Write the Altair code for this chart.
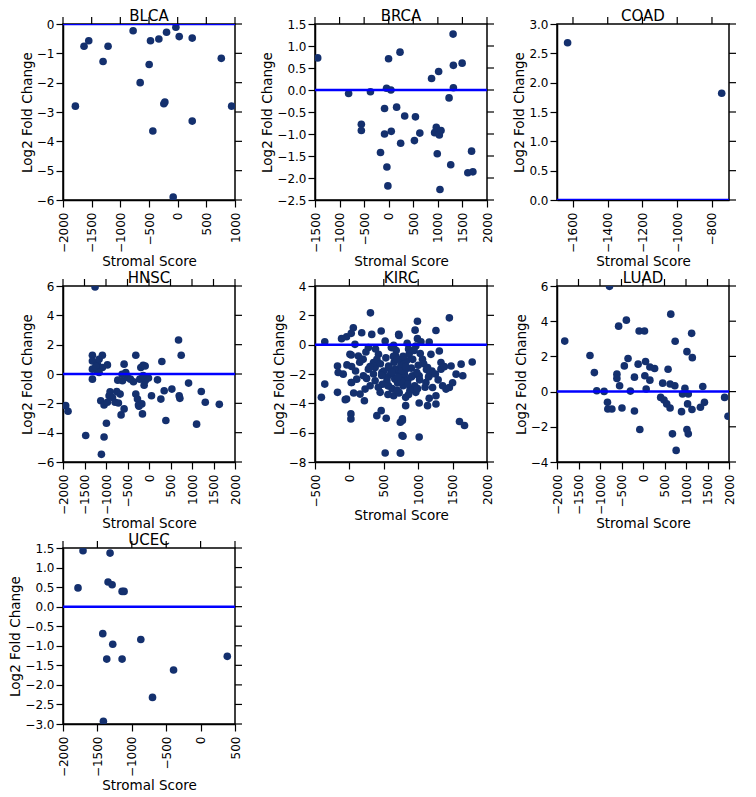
import altair as alt
import pandas as pd

# ---------------- data ----------------
blca_x = [-1784, -1633, -1551, -1301, -1214, -777, -654, -497, -474, -433, -328, -241, -223, -194, -78, -31, 27, 254, 254, 761, 942]
blca_y = [-2.80, -0.76, -0.57, -1.28, -0.76, -0.23, -2.00, -1.38, -0.57, -3.65, -0.51, -2.72, -2.66, -0.28, -5.90, -0.11, -0.43, -0.48, -3.31, -1.17, -2.80]

brca_x = [-1445, -816, -557, -557, -372, -167, -85, -85, -44, -37, -17, -3, 45, 52, 161, 230, 243, 325, 523, 544, 633, 872, 934, 968, 988, 1016, 1030, 1043, 1064, 1228, 1262, 1310, 1316, 1316, 1494, 1610, 1686, 1713]
brca_y = [0.73, -0.08, -0.78, -0.92, -0.04, -1.42, -0.42, -1.00, 0.04, -1.75, -2.18, 0.71, 0.00, -0.94, -0.39, 0.86, -1.21, -0.59, -1.15, -0.61, -0.98, 0.26, -0.97, -0.85, -1.45, 0.42, -1.02, -2.26, -0.92, -0.18, -1.70, 1.27, 0.56, 0.05, 0.61, -1.88, -1.39, -1.86]

coad_x = [-1631, -744]
coad_y = [2.68, 1.82]

hnsc_x = [-1254, -1938, -1883, -1472, -1316, -1316, -1316, -1316, -1200, -1161, -1084, -1084, -1200, -967, -1122, -1045, -1045, -1107, -990, -967, -928, -905, -726, -788, -711, -672, -649, -579, -579, -540, -617, -501, -361, -307, -307, -268, -245, -167, -152, -190, -136, -89, -113, -89, -214, -12, 58, 198, 299, 276, 353, 392, 532, 687, 749, 702, 718, 920, 1107, 1216, 1309, 1635, -1238, -1161, -626, -432, -136, -849, -750, -233]
hnsc_y = [5.93, -2.16, -2.54, -4.19, 1.28, 0.89, 0.33, -0.35, 0.67, 1.00, 1.28, 0.44, 0.21, 0.62, -1.82, -2.11, -4.30, -5.48, -3.36, -1.93, -1.48, -1.21, -0.42, -1.93, -1.98, -1.37, -2.79, 0.67, -2.38, 0.10, -0.46, -0.24, -0.53, 1.28, -1.37, -1.71, -2.11, -2.04, -2.72, 0.44, 0.60, 0.55, -0.76, -0.46, -0.35, -0.28, -1.48, -0.40, 0.85, -1.71, -1.14, -3.17, -1.03, 2.32, 1.28, -1.48, -1.66, -0.62, -3.42, -1.19, -1.93, -2.07, 0.50, 0.10, -0.02, -0.35, -0.10, -1.60, -1.20, -2.20]

kirc_x = [306, -358, 57, 179, -41, -114, 462, 325, 716, -173, -90, -163, 32, -358, -407, -173, -41, 8, 130, 179, 106, 203, 155, 218, 301, 374, 447, 22, 22, 399, 462, 535, 520, 740, 740, 765, 81, 276, 374, 569, 472, 667, 569, 276, 520, 643, 350, 32, 228, 643, 545, 716, 423,
          1453, 989, 1258, 955, 721, 989, 1160, 1785, 1624, 1478, 1331, 1648, 1453, 1404, 1258, 1258, 1160, 1136, 1014, 818, 1600, 1673, 770, 779, 1014, 745, 770, 965, 1209, 1136, 1307, 1185, 1062, 965, 867, 770, 818, 916, 1014, 1112, 1355, 1160, 770, 892, 721, 818, 1331, 1551, 672, 672,
          400, 450, 500, 550, 600, 650, 700, 750, 800, 850, 900, 950, 620, 680, 720, 780, 830, 880, 480, 530, 580, 660, 760, 860, 920, 980, 1020, 1080, 1100, 1150, 300, 350, 250, 200, 420, 560, 640, 700, 820, 760, 900, 1000,
          -60, 62, 27, -36, 27, 27, 150, 90, 240, 380, 610, 840, 940, 1040, 1200, 1290, 1380, 1500, 1250, 1120, 560, 470, 690, 860, 990, 1030, 620, 710, 780, 850]
kirc_y = [2.17, 0.20, 1.15, 0.81, 0.54, 0.41, 0.93, 0.70, 0.70, -1.45, -2.01, -1.90, -1.49, -2.69, -3.59, -3.25, -3.71, -0.66, -0.77, -0.99, -2.35, -2.12, -3.37, -3.82, -2.80, -2.46, -3.25, -4.72, -5.06, -4.84, -4.50, -5.02, -7.39, -7.39, -5.29, -6.19, 0.02, -1.67, -1.56, -1.45, -1.90, -2.35, -2.80, -0.20, 0.25, -0.05, -1.22, -2.58, -3.03, -3.48, -2.46, -1.90, -0.66,
          1.83, 1.60, 0.97, 0.99, 0.63, 0.41, 0.18, -1.18, -1.33, -1.45, -1.67, -2.12, -2.92, -3.03, -3.48, -4.05, -3.66, -4.16, -3.98, -4.16, -5.24, -5.51, -5.06, -6.24, -6.30, -7.39, -5.17, -3.25, -2.92, -1.56, -0.43, -0.66, -0.99, -0.09, -0.66, -0.99, -1.67, -2.12, -2.12, -2.58, -2.80, -2.12, -2.35, -3.03, -3.25, -3.59, -1.22, -2.01, -1.67, -0.77,
          -1.0, -1.3, -1.8, -2.2, -2.0, -1.2, -2.6, -1.4, -2.0, -2.4, -1.6, -2.8, -3.0, -0.4, -3.3, -2.8, -1.1, -3.1, -2.7, -0.9, -1.6, -2.3, -1.8, -0.3, -1.0, -1.9, -2.4, -1.3, -2.9, -2.2, -1.5, -2.0, -2.3, -1.0, -2.9, -3.4, -0.8, -1.0, -1.5, -2.5, -2.2, -1.4,
          -3.75, -3.30, -2.58, -1.38, -0.70, 0.77, -1.20, -1.80, -0.50, -0.30, -0.20, 0.10, -0.40, 0.20, -1.80, -2.40, -1.50, -2.60, -2.00, -1.70, -2.80, -2.10, -3.10, -3.40, -3.00, -0.60, -1.90, -2.20, -0.80, -2.70]

luad_x = [-779, -1820, -1233, -1131, -1076, -904, -826, -818, -724, -567, -387, -607, -607, -544, -489, -434, -348, -293, -199, -199, -113, -90, 35, -74, 59, 43, 74, 160, 160, 270, 411, 458, 489, 552, 583, 630, 646, 630, 740, 685, 748, 771, 896, 975, 920, 1037, 1053, 1022, 1147, 1131, 1022, 1053, 1139, 1335, 1390, 1429, 1898, 1977]
luad_y = [5.98, 2.87, 2.05, 1.08, 0.05, 0.01, -0.61, -0.99, -0.99, 3.72, 4.06, 0.99, 0.75, 0.33, -0.93, 1.46, 1.88, 0.03, 0.82, -1.10, 1.56, 3.44, 3.44, -2.15, 1.71, 0.90, 0.15, 1.40, 0.65, 1.31, -0.33, 0.48, -0.48, -0.70, 1.27, -0.93, 4.40, 0.43, 0.33, -2.40, 2.86, -3.34, -1.14, 0.18, -0.14, -0.70, -0.14, 2.27, 1.93, 3.31, -2.15, -2.40, -1.02, -0.89, 0.29, -0.61, -0.33, -1.40]

ucec_x = [-1709, -1316, -1782, -1345, -1286, -1141, -1112, -1422, -1277, -1364, -1141, -869, -393, -699, -1413, 388]
ucec_y = [1.43, 1.37, 0.48, 0.63, 0.56, 0.39, 0.39, -0.69, -0.96, -1.34, -1.34, -0.84, -1.62, -2.32, -2.93, -1.27]

panels = [
    ("BLCA", blca_x, blca_y, [-2000, 1000], [-2000, -1500, -1000, -500, 0, 500, 1000], [-6, 0], [-6, -5, -4, -3, -2, -1, 0], "d"),
    ("BRCA", brca_x, brca_y, [-1500, 2000], [-1500, -1000, -500, 0, 500, 1000, 1500, 2000], [-2.5, 1.5], [-2.5, -2.0, -1.5, -1.0, -0.5, 0.0, 0.5, 1.0, 1.5], ".1f"),
    ("COAD", coad_x, coad_y, [-1692, -702], [-1600, -1400, -1200, -1000, -800], [0, 3], [0.0, 0.5, 1.0, 1.5, 2.0, 2.5, 3.0], ".1f"),
    ("HNSC", hnsc_x, hnsc_y, [-2000, 2000], [-2000, -1500, -1000, -500, 0, 500, 1000, 1500, 2000], [-6, 6], [-6, -4, -2, 0, 2, 4, 6], "d"),
    ("KIRC", kirc_x, kirc_y, [-500, 2000], [-500, 0, 500, 1000, 1500, 2000], [-8, 4], [-8, -6, -4, -2, 0, 2, 4], "d"),
    ("LUAD", luad_x, luad_y, [-2000, 2000], [-2000, -1500, -1000, -500, 0, 500, 1000, 1500, 2000], [-4, 6], [-4, -2, 0, 2, 4, 6], "d"),
    ("UCEC", ucec_x, ucec_y, [-2000, 500], [-2000, -1500, -1000, -500, 0, 500], [-3, 1.5], [-3.0, -2.5, -2.0, -1.5, -1.0, -0.5, 0.0, 0.5, 1.0, 1.5], ".1f"),
]

FONT = "DejaVu Sans"
POINT = "#14306e"
W, H = 172, 176
TICK = 7


def panel(name, xs, ys, xdom, xt, ydom, yt, yfmt):
    df = pd.DataFrame({"x": xs, "y": ys})
    xs_ = alt.Scale(domain=xdom, nice=False, zero=False)
    ys_ = alt.Scale(domain=ydom, nice=False, zero=False)
    # one axis spec per channel, repeated identically in every layer so the shared axes merge cleanly
    x_ax = alt.Axis(values=xt, format="d", labelAngle=-90, labelPadding=5,
                    title="Stromal Score", titlePadding=2, orient="bottom")
    y_ax = alt.Axis(values=yt, format=yfmt, labelPadding=2,
                    title="Log2 Fold Change", titlePadding=2, orient="left")
    pts = alt.Chart(df).mark_circle(size=58, color=POINT, opacity=1, clip=True).encode(
        x=alt.X("x:Q", scale=xs_, axis=x_ax),
        y=alt.Y("y:Q", scale=ys_, axis=y_ax),
    )
    zero = alt.Chart(pd.DataFrame({"z": [0]})).mark_rule(color="#0000ff", strokeWidth=2.5, clip=True).encode(
        y=alt.Y("z:Q", scale=ys_, axis=y_ax)
    )
    # tick marks mirrored on the top and right edges (matplotlib-style frame)
    top_ticks = alt.Chart(pd.DataFrame({"t": xt})).mark_rule(color="black", strokeWidth=1.2).encode(
        x=alt.X("t:Q", scale=xs_, axis=x_ax), y=alt.value(0), y2=alt.value(-TICK)
    )
    right_ticks = alt.Chart(pd.DataFrame({"t": yt})).mark_rule(color="black", strokeWidth=1.2).encode(
        y=alt.Y("t:Q", scale=ys_, axis=y_ax), x=alt.value(W), x2=alt.value(W + TICK)
    )
    return (
        alt.layer(pts, zero, top_ticks, right_ticks)
        .properties(width=W, height=H,
                    title=alt.TitleParams(name, fontSize=15, font=FONT, fontWeight="normal",
                                          offset=-8, color="black"))
    )


chart = alt.concat(*[panel(*p) for p in panels], columns=3, spacing={"row": 1, "column": 16}).configure_view(
    stroke="black", strokeWidth=1.5
).configure_axis(
    grid=False,
    domainColor="black",
    domainWidth=1.5,
    ticks=True,
    tickColor="black",
    tickWidth=1.2,
    tickSize=TICK,
    labelFont=FONT,
    labelFontSize=12,
    labelColor="black",
    titleFont=FONT,
    titleFontSize=13.5,
    titleFontWeight="normal",
    titleColor="black",
).properties(padding={"left": 0, "top": 0, "right": 0, "bottom": 0})

chart.save("out.html", embed_options={"renderer": "svg", "actions": False})
